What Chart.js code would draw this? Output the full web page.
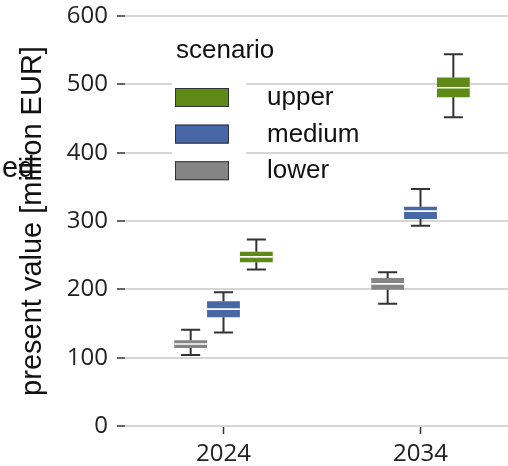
<!DOCTYPE html>
<html><head><meta charset="utf-8">
<script src="https://cdn.jsdelivr.net/npm/chart.js@4"></script>
<style>
html,body{margin:0;padding:0;overflow:hidden;background:#fff;width:508px;height:466px}
#wrap{position:relative;width:519px;height:466px}
</style></head><body>
<div id="wrap"><canvas id="c" width="519" height="466"></canvas></div>
<script>
// ---- data ----
const categories = ['2024', '2034'];
const scenarios = ['lower', 'medium', 'upper'];
const seriesColors = ['#858585', '#4767a6', '#5e8b18'];
// [min, q1, median, q3, max] per category
const lowerBox  = [[104, 114, 120, 125.5, 141], [179, 199.5, 208, 216.5, 225]];
const mediumBox = [[137, 159, 171, 182.5, 195.7], [293, 303, 314.5, 321, 347]];
const upperBox  = [[229, 239.6, 247.5, 255, 273], [452, 481, 495, 510, 544]];
const yTicks = [0, 100, 200, 300, 400, 500, 600];
const yTitle = 'present value [million EUR]';
const legendTitle = 'scenario';
const strayText = 'ed';

const boxes = [lowerBox, mediumBox, upperBox];

const datasets = scenarios.map((name, i) => ({
  label: name,
  data: boxes[i].map(s => [s[1], s[3]]),
  stats: boxes[i],
  backgroundColor: seriesColors[i],
  borderWidth: 0,
  borderSkipped: false,
  categoryPercentage: 0.5,
  barPercentage: 1.0
}));

const boxPlugin = {
  id: 'boxwhisk',
  afterDatasetsDraw(chart) {
    const ctx = chart.ctx, y = chart.scales.y;
    chart.data.datasets.forEach((ds, i) => {
      const meta = chart.getDatasetMeta(i);
      meta.data.forEach((bar, j) => {
        const s = ds.stats[j];
        const x = bar.x, w = bar.width;
        const p = s.map(v => y.getPixelForValue(v));
        ctx.save();
        ctx.strokeStyle = '#333333';
        ctx.lineWidth = 2;
        ctx.beginPath();
        ctx.moveTo(x, p[3]); ctx.lineTo(x, p[4]);
        ctx.moveTo(x, p[1]); ctx.lineTo(x, p[0]);
        const cw = w * 0.58;
        ctx.moveTo(x - cw / 2, p[4]); ctx.lineTo(x + cw / 2, p[4]);
        ctx.moveTo(x - cw / 2, p[0]); ctx.lineTo(x + cw / 2, p[0]);
        ctx.stroke();
        ctx.strokeStyle = '#ffffff';
        ctx.lineWidth = 1.6;
        ctx.beginPath();
        ctx.moveTo(x - w / 2, p[2]); ctx.lineTo(x + w / 2, p[2]);
        ctx.stroke();
        ctx.restore();
      });
    });
  },
  afterDraw(chart) {
    const ctx = chart.ctx;
    ctx.save();
    // legend background
    ctx.fillStyle = '#ffffff';
    ctx.fillRect(172, 62, 74, 126);
    ctx.fillStyle = '#111111';
    ctx.font = '26px "Liberation Sans", Arial, sans-serif';
    ctx.textAlign = 'left';
    ctx.textBaseline = 'alphabetic';
    ctx.fillText(legendTitle, 176, 58);
    const order = [2, 1, 0];
    order.forEach((di, k) => {
      const top = 88 + k * 36.6;
      ctx.fillStyle = seriesColors[di];
      ctx.fillRect(175, top, 54, 19);
      ctx.strokeStyle = '#333333';
      ctx.lineWidth = 1;
      ctx.strokeRect(175.5, top + 0.5, 53, 18);
      ctx.fillStyle = '#111111';
      ctx.fillText(scenarios[di], 267, top + 17);
    });
    // stray text fragment
    ctx.font = '29px "Liberation Sans", Arial, sans-serif';
    ctx.fillText(strayText, 2, 177);
    ctx.restore();
  }
};

new Chart(document.getElementById('c'), {
  type: 'bar',
  data: { labels: categories, datasets },
  options: {
    responsive: false,
    maintainAspectRatio: false,
    animation: false,
    devicePixelRatio: 1,
    events: [],
    layout: { padding: { top: 16, left: 0, right: 0, bottom: 0 } },
    plugins: { legend: { display: false }, tooltip: { enabled: false } },
    scales: {
      x: {
        offset: true,
        afterFit: s => { s.height = 40; s.paddingLeft = 0; s.paddingRight = 0; },
        grid: { drawOnChartArea: false, offset: false, tickColor: '#333333', tickLength: 8, tickWidth: 1.5 },
        border: { display: false },
        ticks: { font: { family: '"Open Sans"', size: 24 }, color: '#222222', padding: 6, maxRotation: 0 }
      },
      y: {
        min: 0, max: 600,
        afterFit: s => { s.width = 125; s.paddingTop = 0; s.paddingBottom = 0; },
        afterBuildTicks: s => { s.ticks = yTicks.map(v => ({ value: v })); },
        grid: { color: '#d6d6d6', lineWidth: 2, tickColor: '#333333', tickLength: 8, tickWidth: 1.5 },
        border: { display: false },
        ticks: { font: { family: '"Open Sans"', size: 24 }, color: '#222222', padding: 9 },
        title: {
          display: true, text: yTitle, color: '#111111',
          font: { family: '"Liberation Sans"', size: 29 },
          padding: { top: 16, bottom: 0 }
        }
      }
    }
  },
  plugins: [boxPlugin]
});
</script>
</body></html>
